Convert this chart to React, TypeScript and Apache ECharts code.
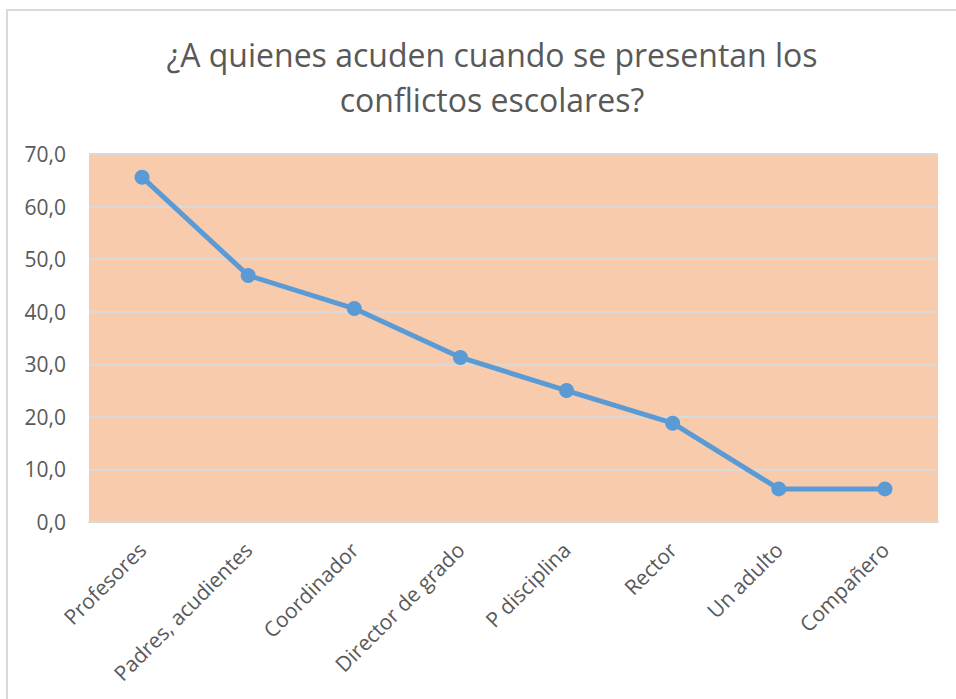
import React, { useEffect, useRef } from "react";
import * as echarts from "echarts";

const categories = [
  "Profesores",
  "Padres, acudientes",
  "Coordinador",
  "Director de grado",
  "P disciplina",
  "Rector",
  "Un adulto",
  "Compañero",
];
const values = [65.6, 46.9, 40.6, 31.3, 25.0, 18.8, 6.3, 6.3];
const titleLines = ["¿A quienes acuden cuando se presentan los", "conflictos escolares?"];

const FONT = "'Open Sans', 'Noto Sans', sans-serif";

export default function App() {
  const ref = useRef<HTMLDivElement>(null);
  useEffect(() => {
    if (!ref.current) return;
    const chart = echarts.init(ref.current, null, { renderer: "svg" });
    chart.setOption({
      animation: false,
      backgroundColor: "#ffffff",
      title: {
        text: titleLines.join("\n"),
        left: 487,
        textAlign: "center",
        top: 27,
        textStyle: {
          fontFamily: FONT,
          fontWeight: "normal",
          fontSize: 32,
          lineHeight: 45,
          color: "#595959",
        },
      },
      graphic: [
        {
          type: "rect",
          shape: { x: 7, y: 10, width: 1000, height: 1000 },
          style: { fill: "none", stroke: "#d9d9d9", lineWidth: 2 },
          silent: true,
        },
      ],
      grid: { left: 89, right: 18, top: 154, bottom: 177 },
      xAxis: {
        type: "category",
        data: categories,
        boundaryGap: true,
        axisLine: { show: true, lineStyle: { color: "#d9d9d9", width: 2 } },
        axisTick: { show: false },
        splitArea: { show: false },
        axisLabel: {
          rotate: 45,
          interval: 0,
          margin: 24,
          fontFamily: FONT,
          fontSize: 21,
          color: "#595959",
        },
      },
      yAxis: {
        type: "value",
        min: 0,
        max: 70,
        interval: 10,
        axisLine: { show: false },
        axisTick: { show: false },
        splitLine: { show: true, lineStyle: { color: "#d9d9d9", width: 2 } },
        splitArea: { show: true, areaStyle: { color: ["#f8cbad", "#f8cbad"] } },
        axisLabel: {
          margin: 23,
          formatter: (v: number) => v.toFixed(1).replace(".", ","),
          fontFamily: FONT,
          fontSize: 21,
          color: "#595959",
        },
      },
      series: [
        {
          type: "line",
          data: values,
          symbol: "circle",
          symbolSize: 15,
          lineStyle: { color: "#5b9bd5", width: 5 },
          itemStyle: { color: "#5b9bd5" },
          z: 5,
        },
      ],
    });
    return () => chart.dispose();
  }, []);
  return (
    <div
      ref={ref}
      style={{ position: "fixed", left: 0, top: 0, width: 956, height: 699 }}
    />
  );
}
